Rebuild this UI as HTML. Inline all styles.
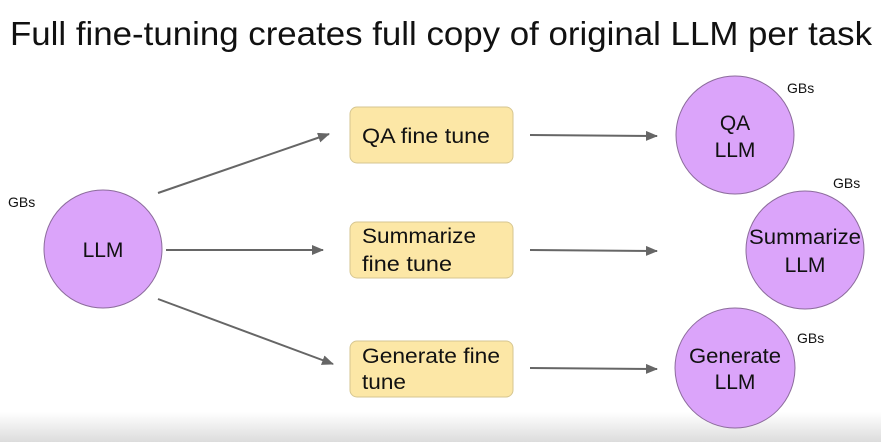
<!DOCTYPE html>
<html><head><meta charset="utf-8"><style>
html,body{margin:0;padding:0;background:#fff;}
svg{display:block;}
text{font-family:"Liberation Sans",sans-serif;fill:#111;}
</style></head><body>
<svg width="881" height="442" viewBox="0 0 881 442" xmlns="http://www.w3.org/2000/svg">
<defs>
<linearGradient id="g" x1="0" y1="0" x2="0" y2="1"><stop offset="0" stop-color="#fff"/><stop offset="1" stop-color="#dcdcdc"/></linearGradient>
<marker id="a" markerWidth="12" markerHeight="10" refX="11" refY="5" orient="auto" markerUnits="userSpaceOnUse"><path d="M0,0 L12,5 L0,10 z" fill="#666"/></marker>
</defs>
<rect x="0" y="412" width="881" height="30" fill="url(#g)"/>
<text x="10" y="45" font-size="33" textLength="862" lengthAdjust="spacingAndGlyphs">Full fine-tuning creates full copy of original LLM per task</text>

<g stroke="#666" stroke-width="2" marker-end="url(#a)">
<line x1="158" y1="193" x2="329" y2="134"/>
<line x1="166" y1="250" x2="323" y2="250"/>
<line x1="158" y1="299" x2="333" y2="364"/>
<line x1="530" y1="135" x2="657" y2="136"/>
<line x1="530" y1="250" x2="657" y2="251"/>
<line x1="530" y1="368" x2="657" y2="369"/>
</g>

<g fill="#dba4fa" stroke="#8c6c9c" stroke-width="1">
<circle cx="103" cy="249" r="59"/>
<circle cx="735" cy="135" r="59"/>
<circle cx="805" cy="250" r="59"/>
<circle cx="735" cy="368" r="60"/>
</g>

<g fill="#fce7a6" stroke="#d6c690" stroke-width="1">
<rect x="350" y="107" width="163" height="56" rx="7"/>
<rect x="350" y="222" width="163" height="56" rx="7"/>
<rect x="350" y="341" width="163" height="56" rx="7"/>
</g>

<g font-size="21">
<text x="103" y="257" text-anchor="middle">LLM</text>
<text x="362" y="143" textLength="128" lengthAdjust="spacingAndGlyphs">QA fine tune</text>
<text x="362" y="243" textLength="114" lengthAdjust="spacingAndGlyphs">Summarize</text>
<text x="362" y="271" textLength="90" lengthAdjust="spacingAndGlyphs">fine tune</text>
<text x="362" y="363" textLength="138" lengthAdjust="spacingAndGlyphs">Generate fine</text>
<text x="362" y="389" textLength="44" lengthAdjust="spacingAndGlyphs">tune</text>
<text x="735" y="130" text-anchor="middle">QA</text>
<text x="735" y="157" text-anchor="middle">LLM</text>
<text x="805" y="244" text-anchor="middle" textLength="112" lengthAdjust="spacingAndGlyphs">Summarize</text>
<text x="805" y="272" text-anchor="middle">LLM</text>
<text x="735" y="363" text-anchor="middle" textLength="92" lengthAdjust="spacingAndGlyphs">Generate</text>
<text x="735" y="389" text-anchor="middle">LLM</text>
</g>
<g font-size="14">
<text x="8" y="207">GBs</text>
<text x="787" y="93">GBs</text>
<text x="833" y="188">GBs</text>
<text x="797" y="343">GBs</text>
</g>
</svg>
</body></html>
